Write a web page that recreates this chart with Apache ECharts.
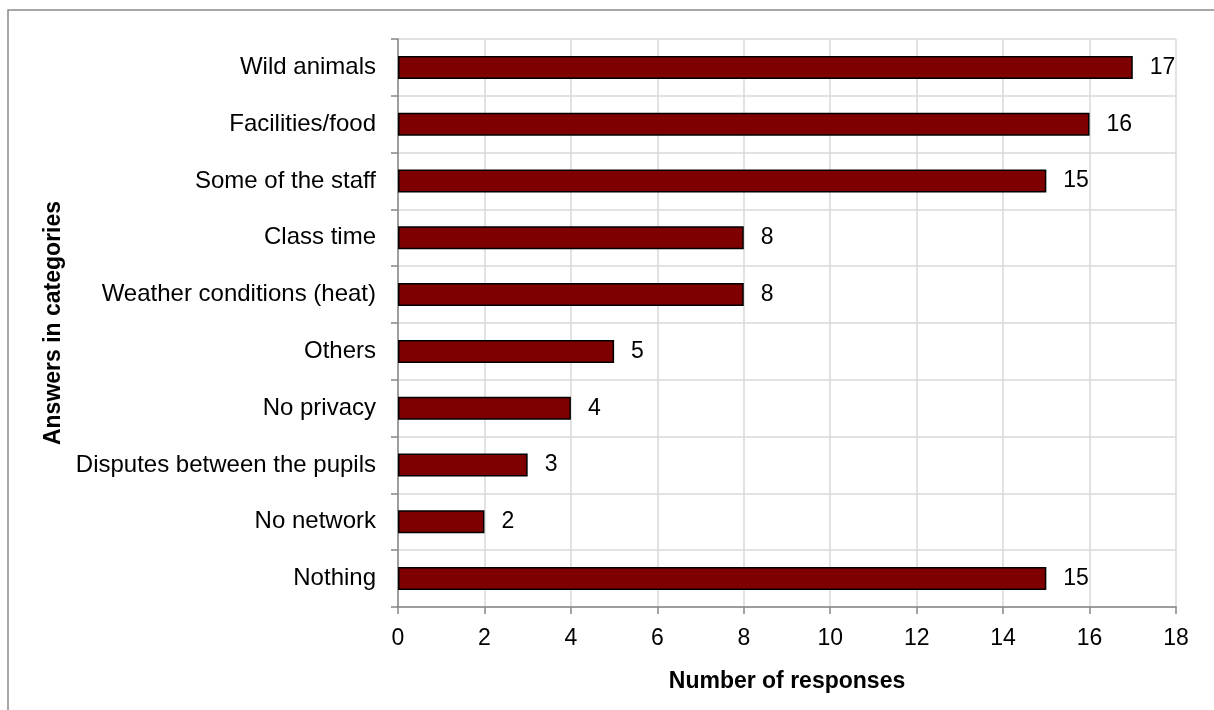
<!DOCTYPE html>
<html>
<head>
<meta charset="utf-8">
<script src="https://cdn.jsdelivr.net/npm/echarts@6/dist/echarts.min.js"></script>
<style>
  html, body { margin: 0; padding: 0; background: #ffffff; }
  #chart { width: 1214px; height: 710px; }
</style>
</head>
<body>
<div id="chart"></div>
<script>
// Survey answers, listed from top to bottom
const categories = [
  'Wild animals',
  'Facilities/food',
  'Some of the staff',
  'Class time',
  'Weather conditions (heat)',
  'Others',
  'No privacy',
  'Disputes between the pupils',
  'No network',
  'Nothing'
];
const responses = [17, 16, 15, 8, 8, 5, 4, 3, 2, 15];

const xMin = 0;
const xMax = 18;
const xStep = 2;

const FONT = '"Liberation Sans", Arial, sans-serif';
const AXIS_GRAY = '#878787';
const GRID_GRAY = '#d9d9d9';

const chart = echarts.init(document.getElementById('chart'), null, { renderer: 'canvas' });

chart.setOption({
  animation: false,
  backgroundColor: '#ffffff',
  textStyle: { fontFamily: FONT },
  graphic: [{
    type: 'rect',
    shape: { x: 8, y: 10, width: 1400, height: 900 },
    style: { fill: 'none', stroke: '#8a8a8a', lineWidth: 1.5 },
    silent: true
  }],
  grid: { left: 398, right: 38, top: 39, bottom: 103, containLabel: false },
  xAxis: {
    type: 'value',
    min: xMin,
    max: xMax,
    interval: xStep,
    name: 'Number of responses',
    nameLocation: 'middle',
    nameGap: 63,
    nameTextStyle: { fontFamily: FONT, fontSize: 23, fontWeight: 'bold', color: '#000' },
    axisLine: { show: true, lineStyle: { color: AXIS_GRAY, width: 1.5 } },
    axisTick: { show: true, length: 7, lineStyle: { color: AXIS_GRAY, width: 1.5 } },
    axisLabel: { fontFamily: FONT, fontSize: 23, color: '#000', margin: 20 },
    splitLine: { show: true, lineStyle: { color: GRID_GRAY, width: 1.5 } }
  },
  yAxis: {
    type: 'category',
    data: categories,
    inverse: true,
    name: 'Answers in categories',
    nameLocation: 'middle',
    nameGap: 331,
    nameTextStyle: { fontFamily: FONT, fontSize: 23, fontWeight: 'bold', color: '#000' },
    axisLine: { show: true, lineStyle: { color: AXIS_GRAY, width: 1.5 } },
    axisTick: { show: true, length: 7, alignWithLabel: false, lineStyle: { color: AXIS_GRAY, width: 1.5 } },
    axisLabel: { fontFamily: FONT, fontSize: 24, color: '#000', margin: 22, interval: 0 },
    splitLine: { show: true, lineStyle: { color: GRID_GRAY, width: 1.5 } }
  },
  series: [{
    type: 'bar',
    data: responses,
    barWidth: 23,
    itemStyle: { color: '#7f0000', borderColor: '#000000', borderWidth: 1.5 },
    label: {
      show: true,
      position: 'right',
      distance: 17,
      fontFamily: FONT,
      fontSize: 23,
      color: '#000'
    }
  }]
});
</script>
</body>
</html>
